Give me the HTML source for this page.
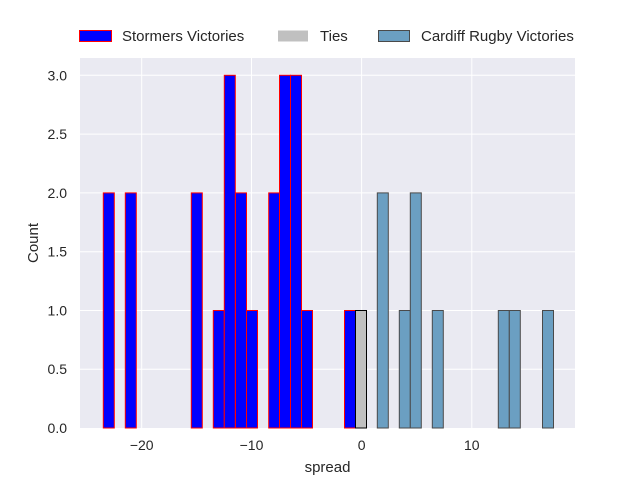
<!DOCTYPE html>
<html><head><meta charset="utf-8"><style>body{margin:0;background:#fff}</style></head><body>
<svg width="640" height="480" xmlns="http://www.w3.org/2000/svg" font-family="Liberation Sans, sans-serif" font-size="15" fill="#262626">
<rect x="80" y="58" width="495" height="370" fill="#eaeaf2"/>
<g stroke="#fff" stroke-width="1">
<line x1="141.7" y1="58" x2="141.7" y2="428"/><line x1="251.5" y1="58" x2="251.5" y2="428"/><line x1="361.6" y1="58" x2="361.6" y2="428"/><line x1="471.8" y1="58" x2="471.8" y2="428"/>
<line x1="80" y1="369.2" x2="575" y2="369.2"/><line x1="80" y1="310.5" x2="575" y2="310.5"/><line x1="80" y1="251.7" x2="575" y2="251.7"/><line x1="80" y1="192.9" x2="575" y2="192.9"/><line x1="80" y1="134.1" x2="575" y2="134.1"/><line x1="80" y1="75.3" x2="575" y2="75.3"/>
</g>
<g fill="#0000ff" stroke="#ff0000" stroke-width="1">
<rect x="103.3" y="192.9" width="11" height="235.1"/>
<rect x="125.3" y="192.9" width="11" height="235.1"/>
<rect x="191.3" y="192.9" width="11" height="235.1"/>
<rect x="213.3" y="310.5" width="11" height="117.5"/>
<rect x="224.3" y="75.3" width="11" height="352.7"/>
<rect x="235.5" y="192.9" width="11" height="235.1"/>
<rect x="246.5" y="310.5" width="11" height="117.5"/>
<rect x="268.7" y="192.9" width="11" height="235.1"/>
<rect x="279.5" y="75.3" width="11" height="352.7"/>
<rect x="290.5" y="75.3" width="11" height="352.7"/>
<rect x="301.5" y="310.5" width="11" height="117.5"/>
<rect x="344.5" y="310.5" width="11" height="117.5"/>
</g>
<rect x="355.5" y="310.5" width="11" height="117.5" fill="#c0c0c0" stroke="#000" stroke-width="1"/>
<g fill="#6b9fc2" stroke="#4a4a4a" stroke-width="1">
<rect x="377.3" y="192.9" width="11" height="235.1"/>
<rect x="399.3" y="310.5" width="11" height="117.5"/>
<rect x="410.3" y="192.9" width="11" height="235.1"/>
<rect x="432.3" y="310.5" width="11" height="117.5"/>
<rect x="498.3" y="310.5" width="11" height="117.5"/>
<rect x="509.3" y="310.5" width="11" height="117.5"/>
<rect x="542.5" y="310.5" width="11" height="117.5"/>
</g>
<g font-size="14" text-anchor="middle">
<text x="141.7" y="450">−20</text><text x="251.5" y="450">−10</text><text x="361.6" y="450">0</text><text x="471.8" y="450">10</text>
</g>
<g font-size="14" text-anchor="end">
<text x="67" y="433">0.0</text><text x="67" y="374.2">0.5</text><text x="67" y="315.5">1.0</text><text x="67" y="256.7">1.5</text><text x="67" y="197.9">2.0</text><text x="67" y="139.1">2.5</text><text x="67" y="80.3">3.0</text>
</g>
<text x="327.5" y="472" text-anchor="middle">spread</text>
<text transform="translate(38,243) rotate(-90)" text-anchor="middle">Count</text>
<rect x="79.5" y="30.5" width="32" height="11" fill="#0000ff" stroke="#ff0000"/>
<text x="122" y="41">Stormers Victories</text>
<rect x="278" y="30.5" width="30" height="11" fill="#c0c0c0"/>
<text x="320" y="41">Ties</text>
<rect x="378.5" y="30.5" width="31" height="11" fill="#6b9fc2" stroke="#4a4a4a"/>
<text x="421" y="41">Cardiff Rugby Victories</text>
</svg>
</body></html>
